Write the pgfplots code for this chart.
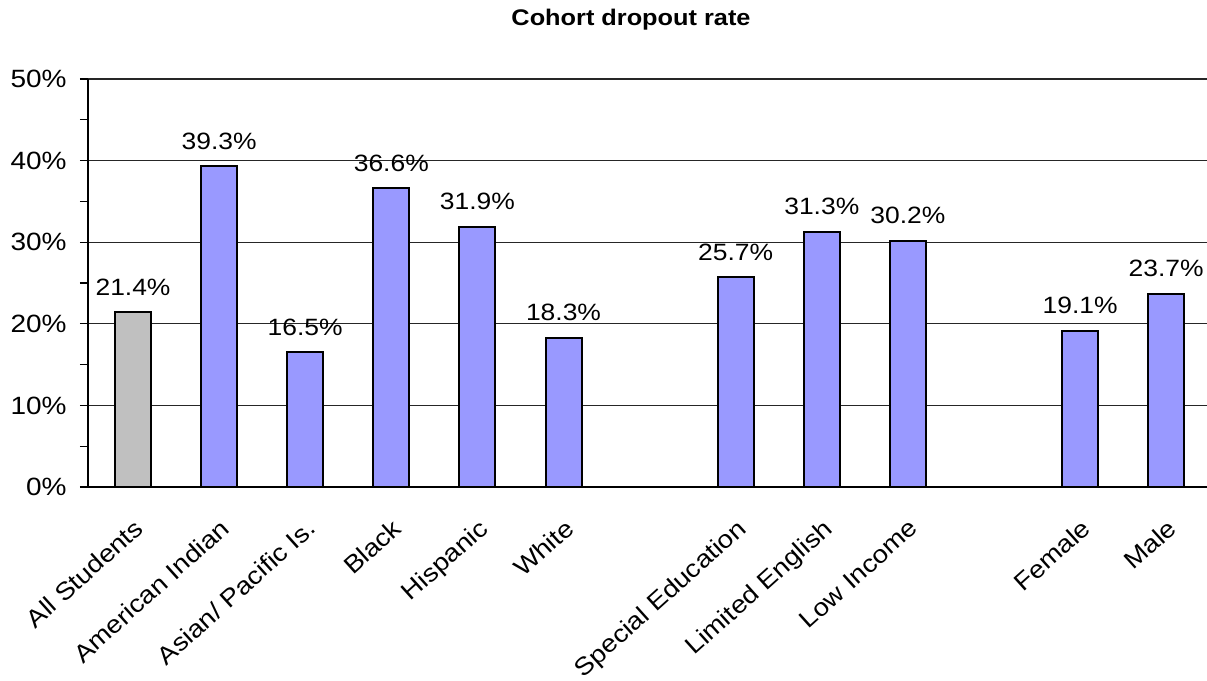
\documentclass[border=0pt]{standalone}
\usepackage{fontspec}
\setmainfont{Liberation Sans}[FakeStretch=1.12]
\usepackage{pgfplots}
\pgfplotsset{compat=1.18}
\definecolor{barblue}{HTML}{9999FF}
\definecolor{bargray}{HTML}{C0C0C0}
\begin{document}
\begin{tikzpicture}
\path[use as bounding box] (-44pt,-97pt) rectangle (559.5pt,243.5pt);
\begin{axis}[
  at={(0,0)}, anchor=south west,
  scale only axis, width=559.5pt, height=204pt,
  xmin=-0.523, xmax=12.474, ymin=0, ymax=50,
  axis lines*=left,
  axis line style={black, line width=0.8pt},
  ytick={0,10,20,30,40,50},
  minor y tick num=1,
  tick align=outside,
  major tick length=4pt, minor tick length=4pt,
  ytick style={black, line width=0.6pt},
  yticklabel={\pgfmathprintnumber[assume math mode=true]{\tick}\%},
  yticklabel style={font=\fontsize{12.5}{14}\selectfont, anchor=east, inner sep=0pt, xshift=-6.5pt},
  ymajorgrids, grid style={black!85, line width=0.6pt},
  xtick={0,1,2,3,4,5,7,8,9,11,12},
  xticklabels={All Students, American Indian, Asian/ Pacific Is., Black, Hispanic, White, Special Education, Limited English, Low Income, Female, Male},
  xtick style={draw=none},
  xticklabel style={font=\fontsize{12.3}{14}\selectfont, inner sep=0pt, xshift=0pt, yshift=-11pt, rotate=42, anchor=north east},
  ybar, bar width=18pt, bar shift=0pt,
  nodes near coords={\pgfmathprintnumber[fixed,fixed zerofill,precision=1,assume math mode=true]{\pgfplotspointmeta}\%},
  every node near coord/.append style={font=\fontsize{11.8}{13}\selectfont, anchor=south, inner sep=0pt, yshift=8pt, black},
  clip=false,
]
\addplot[fill=bargray, draw=black, line width=1pt] coordinates {(0,21.4)};
\addplot[fill=barblue, draw=black, line width=1pt] coordinates {
 (1,39.3) (2,16.5) (3,36.6) (4,31.9) (5,18.3)
 (7,25.7) (8,31.3) (9,30.2) (11,19.1) (12,23.7)};
\end{axis}
\node[anchor=base, font=\fontsize{11.3}{13}\selectfont\bfseries] at (271.5pt,230.5pt) {Cohort dropout rate};
\end{tikzpicture}
\end{document}
